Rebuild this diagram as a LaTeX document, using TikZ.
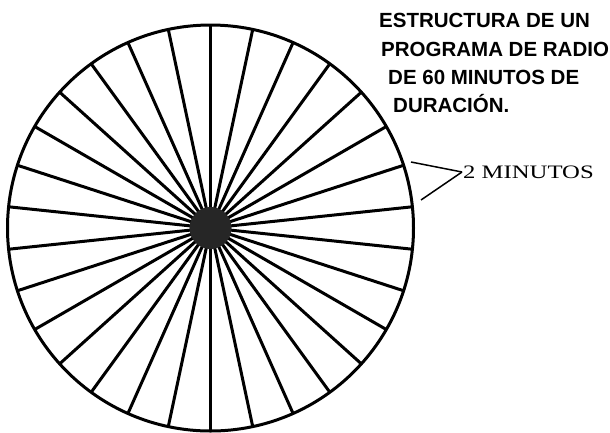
\documentclass[tikz,border=0pt]{standalone}
\usepackage{fontspec}
\setmainfont{Liberation Serif}
\newfontfamily\titlefont{Liberation Sans}
\newfontfamily\minsfont[FakeStretch=1.3]{Liberation Serif}
\usetikzlibrary{calc}

\begin{document}
\begin{tikzpicture}[x=1pt, y=-1pt,
        spoke/.style={line width=3pt},
        leader/.style={line width=1.5pt},
        titleline/.style={anchor=base west, inner sep=0pt,
            font=\titlefont\bfseries\fontsize{20.5}{24}\selectfont}]
        \useasboundingbox (0,0) rectangle (610,432);

        % Centre of the dial
        \coordinate (C) at (210.5,228);

        % 15 diameters, 30 slices of 2 minutes
        \foreach \k in {0,...,14}{
            \draw[spoke] ($(C)+(90+12*\k:203pt)$) -- ($(C)+(270+12*\k:203pt)$);
        }
        \draw[spoke] (C) circle[radius=203pt];
        \fill[black!85] (C) circle[radius=21pt];

        % Title
        \node[titleline] (title1) at (379,27) {ESTRUCTURA DE UN};
        \node[titleline] (title2) at (381,56) {PROGRAMA DE RADIO};
        \node[titleline] (title3) at (388,84) {DE 60 MINUTOS DE};
        \node[titleline] (title4) at (393,112) {DURACIÓN.};

        % One slice marked
        \coordinate (upEnd) at (411,162);
        \coordinate (lowEnd) at (421,200);
        \node[anchor=west, inner sep=1pt, font=\minsfont\fontsize{19}{22}\selectfont] (mins) at (462,172) {2 MINUTOS};
        \draw[leader] (upEnd) -- (mins.west);
        \draw[leader] (lowEnd) -- (mins.west);
\end{tikzpicture}
\end{document}
